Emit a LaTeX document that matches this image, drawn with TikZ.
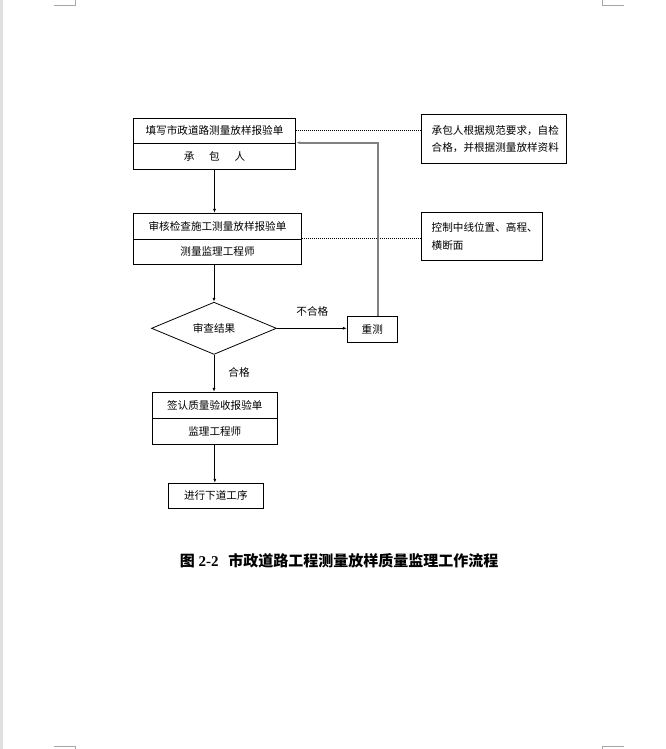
\documentclass[tikz,border=0pt]{standalone}
\usepackage{fontspec}
\setmainfont{Liberation Serif}
\newfontfamily\cjk{Noto Sans CJK SC}
\usetikzlibrary{shapes.geometric,arrows.meta}
\tikzset{
  box/.style={draw, line width=0.8pt, inner sep=0pt, font=\cjk\fontsize{10.6}{12}\selectfont},
  note/.style={draw, line width=0.8pt, inner sep=0pt, align=left, font=\cjk\fontsize{10.6}{17.4}\selectfont},
  arr/.style={line width=0.8pt, -{Latex[length=4pt,width=3pt]}},
  dots/.style={line width=0.8pt, dash pattern=on 1pt off 1pt},
  ret/.style={line width=1.8pt, draw=black!50, -{Latex[length=4pt,width=3pt]}},
  lbl/.style={font=\cjk\fontsize{10.6}{12}\selectfont, inner sep=0pt},
  cropmark/.style={draw=black!35, line width=0.8pt},
}
\begin{document}
\begin{tikzpicture}[x=1pt,y=-1pt]
\useasboundingbox (0,0) rectangle (666,749);
\fill[black!12] (0,0) rectangle (3,749);
% crop marks
\draw[cropmark] (54,5.5) -- (75,5.5) -- (75,0);
\draw[cropmark] (602.5,0) -- (602.5,5.5) -- (624,5.5);
\draw[cropmark] (54,746) -- (75,746) -- (75,749);
\draw[cropmark] (602.5,749) -- (602.5,746) -- (624,746);

% main boxes
\node[box, minimum width=162.4pt, minimum height=25pt] (b1t) at (214.5,130.8) {填写市政道路测量放样报验单};
\node[box, minimum width=162.4pt, minimum height=26pt] (b1b) at (214.5,156.3) {承\hspace{1.4em}包\hspace{1.4em}人};
\node[box, minimum width=168.4pt, minimum height=26pt] (b2t) at (217.5,226.3) {审核检查施工测量放样报验单};
\node[box, minimum width=168.4pt, minimum height=25pt] (b2b) at (217.5,251.8) {测量监理工程师};
\node[box, shape=diamond, minimum width=125pt, minimum height=51.3pt] (dia) at (214,328.3) {审查结果};
\node[box, minimum width=50pt, minimum height=26.3pt] (rc) at (372.3,329.2) {重测};
\node[box, minimum width=125pt, minimum height=26pt] (b3t) at (214.8,405.3) {签认质量验收报验单};
\node[box, minimum width=125pt, minimum height=26pt] (b3b) at (214.8,431.3) {监理工程师};
\node[box, minimum width=95pt, minimum height=25pt] (b4) at (215.8,495.8) {进行下道工序};

% notes
\node[note, minimum width=145pt, minimum height=49pt, text width=125pt] (r1) at (494.2,138.8) {承包人根据规范要求，自检\\合格，并根据测量放样资料};
\node[note, minimum width=121pt, minimum height=48pt, text width=101pt] (r2) at (482.2,236.3) {控制中线位置、高程、\\横断面};

% dotted links
\draw[dots] (b1t.east) -- (b1t.east -| r1.west);
\draw[dots] ([yshift=1.6pt]b2t.south east) -- ([yshift=1.6pt]b2t.south east -| r2.west);

% flow arrows
\draw[arr] (b1b.south) -- (b1b.south |- b2t.north);
\draw[arr] (dia.north |- b2b.south) -- (dia.north);
\draw[arr] (dia.east) -- (dia.east -| rc.west);
\draw[arr] (dia.south) -- (dia.south |- b3t.north);
\draw[arr] (b3b.south) -- (b3b.south |- b4.north);
\coordinate (rt) at (378.3,142.7);
\draw[ret] (rc.north -| rt) -- (rt) -- (rt -| b1t.east);

% labels
\node[lbl] (l1) at (312.3,311.7) {不合格};
\node[lbl] (l2) at (239,372.7) {合格};

% caption
\node[inner sep=0pt, font=\fontsize{15}{18}\selectfont\bfseries] (cap) at (339,560.7) {{\cjk 图} 2-2\hspace{0.4em} {\cjk 市政道路工程测量放样质量监理工作流程}};
\end{tikzpicture}
\end{document}
